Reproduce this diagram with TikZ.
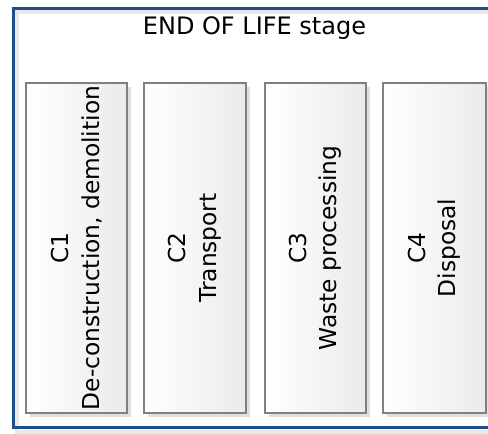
\documentclass[tikz,border=0pt]{standalone}
\usepackage{fontspec}
\setmainfont{DejaVu Sans}
\begin{document}
\begin{tikzpicture}[x=1pt,y=-1pt,
  framecol/.style={draw=frameblue,line width=3.2pt},
  frameshadow/.style={draw=black!9,line width=4pt},
  phasebox/.style={draw=boxgray,line width=1.1pt,left color=white,right color=black!8},
  boxshadow/.style={fill=black!12},
  lbl/.style={font=\fontsize{23.3}{30.5}\selectfont,align=center,rotate=90,inner sep=0pt},
  ttl/.style={font=\fontsize{24}{28}\selectfont,inner sep=0pt}]
\definecolor{frameblue}{RGB}{31,78,140}
\definecolor{boxgray}{RGB}{128,128,128}
\useasboundingbox (0,0) rectangle (488,434);
\fill[white] (0,0) rectangle (488,434);
% stage frame with its soft shadow
\draw[frameshadow] (17,12) rectangle (505,432);
\draw[framecol] (13.5,8.5) rectangle (500,427.5);
% module boxes C1..C4 with drop shadows
\foreach \xa/\xb in {26/127,144/246,265/366,383/486}{
  \fill[boxshadow] (\xa+4,87) rectangle (\xb+4,417);
}
\draw[phasebox] (26,83) rectangle (127,413);
\draw[phasebox] (144,83) rectangle (246,413);
\draw[phasebox] (265,83) rectangle (366,413);
\draw[phasebox] (383,83) rectangle (486,413);
% title
\node[ttl] (title) at (254.5,28.5) {END OF LIFE stage};
% rotated labels
\node[lbl] (c1) at (76.5,248) {C1\\De-construction, demolition};
\node[lbl] (c2) at (195,248) {C2\\Transport};
\node[lbl] (c3) at (315.5,248) {C3\\Waste processing};
\node[lbl] (c4) at (434.5,248) {C4\\Disposal};
\end{tikzpicture}
\end{document}
